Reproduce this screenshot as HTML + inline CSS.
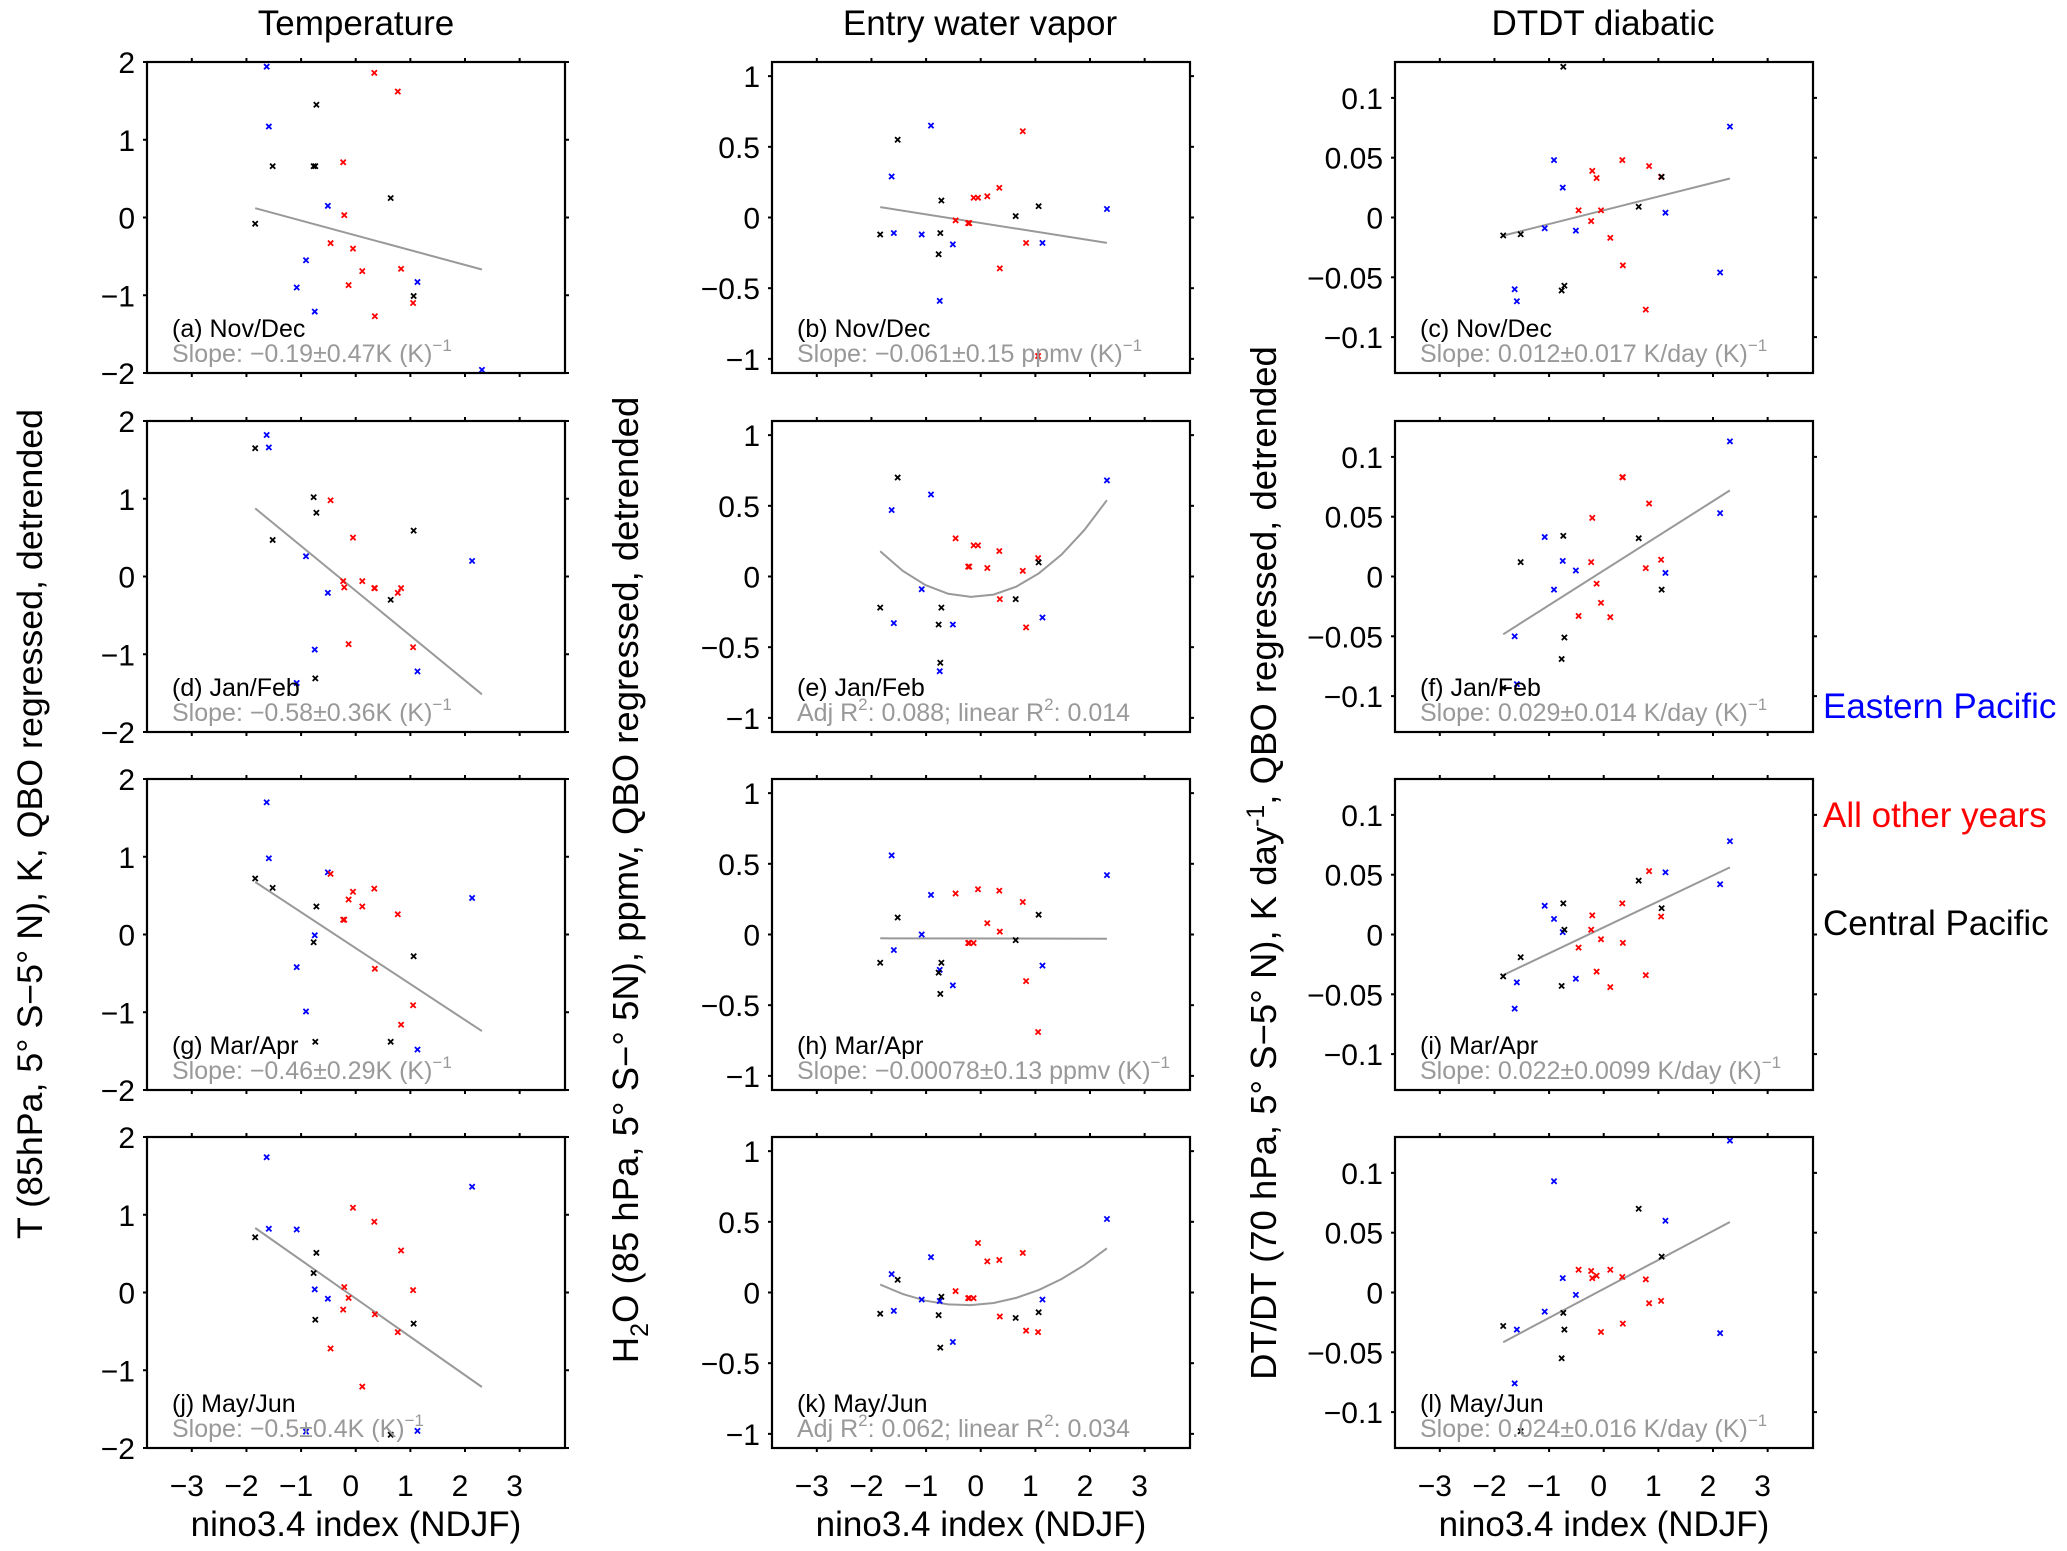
<!DOCTYPE html>
<html><head><meta charset="utf-8"><title>ENSO regression panels</title>
<style>
html,body{margin:0;padding:0;background:#fff;}
svg{display:block;font-family:"Liberation Sans",Arial,sans-serif;}
</style></head>
<body>
<svg id="fig" xmlns="http://www.w3.org/2000/svg" width="2067" height="1551" viewBox="0 0 2067 1551">
<rect x="0" y="0" width="2067" height="1551" fill="#fff"/>
<text x="356" y="35" font-size="35" text-anchor="middle">Temperature</text>
<text x="980" y="35" font-size="35" text-anchor="middle">Entry water vapor</text>
<text x="1603" y="35" font-size="35" text-anchor="middle">DTDT diabatic</text>

<text transform="translate(42,824) rotate(-90)" font-size="35" text-anchor="middle" textLength="830" lengthAdjust="spacingAndGlyphs">T (85hPa, 5° S−5° N), K, QBO regressed, detrended</text>
<text transform="translate(638,880) rotate(-90)" font-size="36.5" text-anchor="middle">H<tspan font-size="25" dy="10">2</tspan><tspan dy="-10">O (85 hPa, 5° S−° 5N), ppmv, QBO regressed, detrended</tspan></text>
<text transform="translate(1276,863) rotate(-90)" font-size="36.5" text-anchor="middle">DT/DT (70 hPa, 5° S−5° N), K day<tspan font-size="25" dy="-12">-1</tspan><tspan dy="12">, QBO regressed, detrended</tspan></text>

<text x="1823" y="718" font-size="35" fill="#0000ff">Eastern Pacific</text>
<text x="1823" y="827" font-size="35" fill="#ff0000">All other years</text>
<text x="1823" y="935" font-size="35" fill="#000">Central Pacific</text>
<g id="panels"></g>
</svg>
<script>
// nino3.4 index (NDJF) per year group
const xBlue  = [-1.63,-1.59,-1.08,-0.91,-0.75,-0.51,1.13,2.13,2.31];
const xBlack = [-1.84,-1.52,-0.77,-0.74,-0.72,0.64,1.06];
const xRed   = [-0.46,-0.23,-0.21,-0.13,-0.05,0.12,0.34,0.35,0.77,0.83,1.05];

// panel (a) Nov/Dec temperature
const aBlue  = [1.94,1.17,-0.90,-0.55,-1.21,0.15,-0.83,-2.2,-1.96];
const aBlack = [-0.08,0.66,0.66,0.66,1.45,0.25,-1.01];
const aRed   = [-0.33,0.71,0.03,-0.87,-0.40,-0.69,1.86,-1.27,1.62,-0.66,-1.10];
const aFit   = [-0.23,-0.19,0];
// panel (b)
const bBlue  = [0.29,-0.11,-0.12,0.65,-0.59,-0.19,-0.18,-1.2,0.06];
const bBlack = [-0.12,0.55,-0.26,-0.11,0.12,0.01,0.08];
const bRed   = [-0.02,-0.04,-0.04,0.14,0.14,0.15,0.21,-0.36,0.61,-0.18,-0.98];
const bFit   = [-0.039,-0.061,0];
// panel (c)
const cBlue  = [-0.060,-0.070,-0.009,0.048,0.025,-0.011,0.004,-0.046,0.076];
const cBlack = [-0.015,-0.014,-0.061,0.126,-0.057,0.009,0.034];
const cRed   = [0.006,-0.003,0.039,0.033,0.006,-0.017,0.048,-0.040,-0.077,0.043,0.034];
const cFit   = [0.006,0.0115,0];
// panel (d)
const dBlue  = [1.82,1.66,-1.37,0.26,-0.94,-0.21,-1.22,0.20,-2.2];
const dBlack = [1.65,0.47,1.02,-1.31,0.82,-0.30,0.59];
const dRed   = [0.98,-0.06,-0.14,-0.87,0.50,-0.06,-0.15,-0.15,-0.21,-0.15,-0.91];
const dFit   = [-0.184,-0.576,0];
// panel (e)
const eBlue  = [0.47,-0.33,-0.09,0.58,-0.67,-0.34,-0.29,-1.2,0.68];
const eBlack = [-0.22,0.70,-0.34,-0.61,-0.22,-0.16,0.10];
const eRed   = [0.27,0.07,0.07,0.22,0.22,0.06,0.18,-0.16,0.04,-0.36,0.13];
const eFit   = [-0.142,0.034,0.113];
// panel (f)
const fBlue  = [-0.050,-0.090,0.033,-0.011,0.013,0.005,0.003,0.053,0.113];
const fBlack = [-0.093,0.012,-0.069,0.034,-0.051,0.032,-0.011];
const fRed   = [-0.033,0.012,0.049,-0.006,-0.022,-0.034,0.083,0.083,0.007,0.061,0.014];
const fFit   = [0.005,0.029,0];
// panel (g)
const gBlue  = [1.70,0.98,-0.42,-0.99,-0.01,0.80,-1.48,0.47,-2.2];
const gBlack = [0.72,0.60,-0.10,-1.38,0.36,-1.38,-0.28];
const gRed   = [0.78,0.19,0.19,0.45,0.55,0.36,0.59,-0.44,0.26,-1.16,-0.91];
const gFit   = [-0.175,-0.462,0];
// panel (h)
const hBlue  = [0.56,-0.11,0.0,0.28,-0.25,-0.36,-0.22,-1.2,0.42];
const hBlack = [-0.20,0.12,-0.27,-0.42,-0.20,-0.04,0.14];
const hRed   = [0.29,-0.06,-0.06,-0.06,0.32,0.08,0.31,0.02,0.23,-0.33,-0.69];
const hFit   = [-0.028,-0.00078,0];
// panel (i)
const iBlue  = [-0.062,-0.040,0.024,0.013,0.002,-0.037,0.052,0.042,0.078];
const iBlack = [-0.035,-0.019,-0.043,0.026,0.004,0.045,0.022];
const iRed   = [-0.011,0.004,0.016,-0.031,-0.004,-0.044,0.026,-0.007,-0.034,0.053,0.015];
const iFit   = [0.006,0.0217,0];
// panel (j)
const jBlue  = [1.74,0.82,0.81,-1.79,0.04,-0.08,-1.78,1.36,-2.2];
const jBlack = [0.71,-2.2,0.25,-0.35,0.51,-1.83,-0.40];
const jRed   = [-0.72,-0.22,0.07,-0.07,1.09,-1.21,0.91,-0.28,-0.51,0.54,0.03];
const jFit   = [-0.077,-0.493,0];
// panel (k)
const kBlue  = [0.13,-0.13,-0.05,0.25,-0.06,-0.35,-0.05,-1.2,0.52];
const kBlack = [-0.15,0.09,-0.16,-0.39,-0.03,-0.18,-0.14];
const kRed   = [0.01,-0.04,-0.04,-0.04,0.35,0.22,0.23,-0.17,0.28,-0.27,-0.28];
const kFit   = [-0.0853,0.0336,0.06];
// panel (l)
const lBlue  = [-0.076,-0.031,-0.016,0.093,0.012,-0.002,0.060,-0.034,0.127];
const lBlack = [-0.028,-0.116,-0.055,-0.017,-0.031,0.070,0.030];
const lRed   = [0.019,0.018,0.012,0.014,-0.033,0.019,0.013,-0.026,0.011,-0.009,-0.007];
const lFit   = [0.003,0.0242,0];

const xTicks = [-3,-2,-1,0,1,2,3];
const yTicksT = [-2,-1,0,1,2];
const yTicksW = [-1,-0.5,0,0.5,1];
const yTicksD = [-0.1,-0.05,0,0.05,0.1];

const NS = "http://www.w3.org/2000/svg";
const root = document.getElementById('panels');
const colLeft = [147,772,1395], rowTop = [62,421,779,1137];
const PW = 418, PH = 311, XMIN = -3.82, XMAX = 3.83;
const yLims = [[-2,2],[-1.1,1.1],[-0.13,0.13]];
const yTicksByCol = [yTicksT, yTicksW, yTicksD];

const panels = [
 {id:'a',r:0,c:0,blue:aBlue,black:aBlack,red:aRed,fit:aFit,lab:'(a) Nov/Dec',txt:['Slope: −0.19±0.47K (K)','−1']},
 {id:'b',r:0,c:1,blue:bBlue,black:bBlack,red:bRed,fit:bFit,lab:'(b) Nov/Dec',txt:['Slope: −0.061±0.15 ppmv (K)','−1']},
 {id:'c',r:0,c:2,blue:cBlue,black:cBlack,red:cRed,fit:cFit,lab:'(c) Nov/Dec',txt:['Slope: 0.012±0.017 K/day (K)','−1']},
 {id:'d',r:1,c:0,blue:dBlue,black:dBlack,red:dRed,fit:dFit,lab:'(d) Jan/Feb',txt:['Slope: −0.58±0.36K (K)','−1']},
 {id:'e',r:1,c:1,blue:eBlue,black:eBlack,red:eRed,fit:eFit,lab:'(e) Jan/Feb',r2:['0.088','0.014']},
 {id:'f',r:1,c:2,blue:fBlue,black:fBlack,red:fRed,fit:fFit,lab:'(f) Jan/Feb',txt:['Slope: 0.029±0.014 K/day (K)','−1']},
 {id:'g',r:2,c:0,blue:gBlue,black:gBlack,red:gRed,fit:gFit,lab:'(g) Mar/Apr',txt:['Slope: −0.46±0.29K (K)','−1']},
 {id:'h',r:2,c:1,blue:hBlue,black:hBlack,red:hRed,fit:hFit,lab:'(h) Mar/Apr',txt:['Slope: −0.00078±0.13 ppmv (K)','−1']},
 {id:'i',r:2,c:2,blue:iBlue,black:iBlack,red:iRed,fit:iFit,lab:'(i) Mar/Apr',txt:['Slope: 0.022±0.0099 K/day (K)','−1']},
 {id:'j',r:3,c:0,blue:jBlue,black:jBlack,red:jRed,fit:jFit,lab:'(j) May/Jun',txt:['Slope: −0.5±0.4K (K)','−1']},
 {id:'k',r:3,c:1,blue:kBlue,black:kBlack,red:kRed,fit:kFit,lab:'(k) May/Jun',r2:['0.062','0.034']},
 {id:'l',r:3,c:2,blue:lBlue,black:lBlack,red:lRed,fit:lFit,lab:'(l) May/Jun',txt:['Slope: 0.024±0.016 K/day (K)','−1']}
];

function mk(tag, attrs, parent){
  const e = document.createElementNS(NS, tag);
  for (const k in attrs) e.setAttribute(k, attrs[k]);
  (parent||root).appendChild(e);
  return e;
}
function fmt(v){ return (v<0?'−':'') + String(Math.abs(v)); }

panels.forEach(p=>{
  const L = colLeft[p.c], T = rowTop[p.r];
  const [y0,y1] = yLims[p.c];
  const sx = v => L + (v - XMIN)/(XMAX - XMIN)*PW;
  const sy = v => T + PH - (v - y0)/(y1 - y0)*PH;
  const g = mk('g', {});
  
  
  const cp = mk('clipPath', {id:'clip-'+p.id}, g);
  mk('rect', {x:L, y:T, width:PW, height:PH}, cp);

  xTicks.forEach(t=>{
    const x = sx(t);
    const t1 = mk('line', {x1:x, x2:x, y1:T, y2:T-4, stroke:'#000', 'stroke-width':2}, g);
    
    
    const t2 = mk('line', {x1:x, x2:x, y1:T+PH, y2:T+PH+4, stroke:'#000', 'stroke-width':2}, g);
    
    
    if (p.r === 3) {
      const tl = mk('text', {x:x-5, y:T+PH+48, 'font-size':30, 'text-anchor':'middle'}, g);
      tl.textContent = fmt(t);
      
      
    }
  });
  yTicksByCol[p.c].forEach(t=>{
    const y = sy(t);
    const t1 = mk('line', {x1:L-4, x2:L, y1:y, y2:y, stroke:'#000', 'stroke-width':2}, g);
    
    
    const t2 = mk('line', {x1:L+PW, x2:L+PW+4, y1:y, y2:y, stroke:'#000', 'stroke-width':2}, g);
    
    
    const tl = mk('text', {x:L-12, y:y+11, 'font-size':30, 'text-anchor':'end'}, g);
    tl.textContent = fmt(t);
    
    
  });
  if (p.r === 3) {
    const xt = mk('text', {x:L+PW/2, y:T+PH+88, 'font-size':35, 'text-anchor':'middle'}, g);
    xt.textContent = 'nino3.4 index (NDJF)';
    
    
  }

  const all = xBlue.concat(xBlack, xRed);
  const xa = Math.min(...all), xb = Math.max(...all);
  const n = p.fit[2] !== 0 ? 10 : 1;
  let pts = [];
  for (let i=0;i<=n;i++){
    const xv = xa + (xb-xa)*i/n;
    const yv = p.fit[0] + p.fit[1]*xv + p.fit[2]*xv*xv;
    pts.push(sx(xv).toFixed(1)+','+sy(yv).toFixed(1));
  }
  const fl = mk('polyline', {points:pts.join(' '), fill:'none', stroke:'#999', 'stroke-width':2, 'clip-path':'url(#clip-'+p.id+')'}, g);
  
  

  const groups = [[xBlue,p.blue,'#0000ff','eastern-pacific'],[xRed,p.red,'#ff0000','other-years'],[xBlack,p.black,'#000000','central-pacific']];
  groups.forEach(([xs,ys,col,nm])=>{
    xs.forEach((xv,i)=>{
      const cx = sx(xv), cy = sy(ys[i]), s = 2.6;
      const m = mk('path', {d:`M${cx-s},${cy-s}L${cx+s},${cy+s}M${cx-s},${cy+s}L${cx+s},${cy-s}`, stroke:col, 'stroke-width':1.8, fill:'none', 'clip-path':'url(#clip-'+p.id+')'}, g);
      
      
    });
  });

  const lb = mk('text', {x:L+25, y:T+PH-36, 'font-size':25}, g);
  lb.textContent = p.lab;
  
  
  const st = mk('text', {x:L+25, y:T+PH-11, 'font-size':25, fill:'#999'}, g);
  
  
  if (p.txt) {
    st.appendChild(document.createTextNode(p.txt[0]));
    const sp = mk('tspan', {'font-size':17, dy:-11}, st);
    sp.textContent = p.txt[1];
  } else {
    st.appendChild(document.createTextNode('Adj R'));
    const s1 = mk('tspan', {'font-size':17, dy:-11}, st); s1.textContent = '2';
    const s2 = mk('tspan', {dy:11}, st); s2.textContent = ': ' + p.r2[0] + '; linear R';
    const s3 = mk('tspan', {'font-size':17, dy:-11}, st); s3.textContent = '2';
    const s4 = mk('tspan', {dy:11}, st); s4.textContent = ': ' + p.r2[1];
  }

  const fr = mk('rect', {x:L, y:T, width:PW, height:PH, fill:'none', stroke:'#000', 'stroke-width':2.2}, g);
  
  
});
</script>
</body></html>
